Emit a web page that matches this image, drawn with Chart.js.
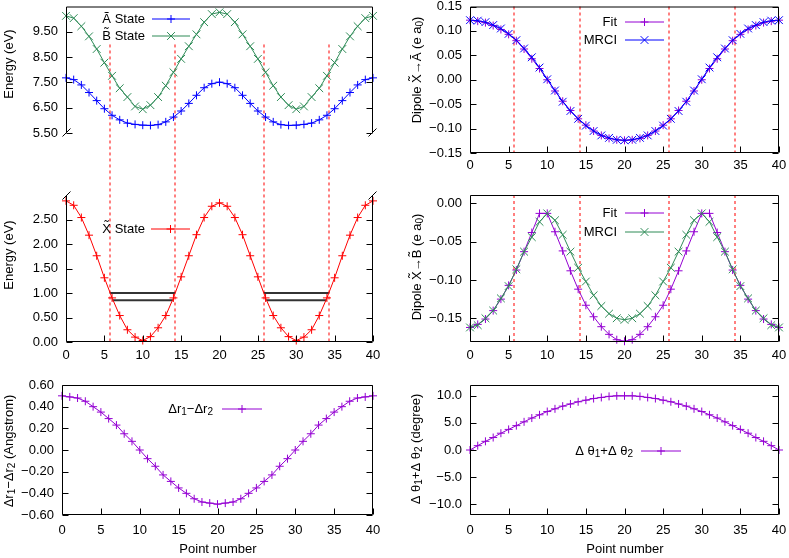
<!DOCTYPE html>
<html lang="en">
<head>
<meta charset="UTF-8" />
<title>Energies, dipoles and coordinates along the path</title>
<script src="https://cdn.jsdelivr.net/npm/chart.js"></script>
<style>
  body { margin: 0; background: #fff; overflow: hidden; }
  canvas { position: absolute; left: 0; top: 0; }
</style>
</head>
<body>
<canvas id="energyLow" width="789" height="558"></canvas>
<canvas id="energyHigh" width="789" height="558"></canvas>
<canvas id="dipoleA" width="789" height="558"></canvas>
<canvas id="dipoleB" width="789" height="558"></canvas>
<canvas id="deltaR" width="789" height="558"></canvas>
<canvas id="deltaTheta" width="789" height="558"></canvas>
<script>
// ---- data ----
const pointNumber = [0,1,2,3,4,5,6,7,8,9,10,11,12,13,14,15,16,17,18,19,20,21,22,23,24,25,26,27,28,29,30,31,32,33,34,35,36,37,38,39,40];

const stateA = [7.68,7.61,7.40,7.10,6.78,6.46,6.20,6.02,5.89,5.84,5.81,5.80,5.83,5.94,6.13,6.37,6.67,6.99,7.29,7.45,7.51,
                7.45,7.29,6.99,6.67,6.37,6.13,5.94,5.83,5.80,5.81,5.84,5.89,6.02,6.20,6.46,6.78,7.10,7.40,7.61,7.68];
const stateB = [10.13,10.04,9.72,9.32,8.82,8.28,7.76,7.27,6.92,6.55,6.44,6.60,6.92,7.37,7.90,8.43,8.93,9.40,9.88,10.20,10.27,
                10.20,9.88,9.40,8.93,8.43,7.90,7.37,6.92,6.60,6.44,6.55,6.92,7.27,7.76,8.28,8.82,9.32,9.72,10.04,10.13];
const stateX = [2.88,2.79,2.54,2.18,1.76,1.31,0.90,0.54,0.25,0.10,0.03,0.11,0.29,0.54,0.90,1.33,1.76,2.19,2.54,2.77,2.84,
                2.77,2.54,2.19,1.76,1.33,0.90,0.54,0.29,0.11,0.03,0.10,0.25,0.54,0.90,1.31,1.76,2.18,2.54,2.79,2.88];

const dipAFit  = [0.122,0.120,0.117,0.111,0.103,0.093,0.080,0.063,0.043,0.023,0.000,-0.023,-0.044,-0.063,-0.080,-0.093,-0.105,-0.114,-0.120,-0.123,-0.124,
                  -0.123,-0.120,-0.114,-0.105,-0.093,-0.080,-0.063,-0.044,-0.023,0.000,0.023,0.043,0.063,0.080,0.093,0.103,0.111,0.117,0.120,0.122];
const dipAMrci = [0.122,0.121,0.118,0.112,0.105,0.094,0.081,0.064,0.046,0.025,0.001,-0.022,-0.045,-0.064,-0.080,-0.094,-0.105,-0.114,-0.119,-0.123,-0.124,
                  -0.123,-0.119,-0.114,-0.105,-0.094,-0.080,-0.064,-0.045,-0.022,0.001,0.025,0.046,0.064,0.081,0.094,0.105,0.112,0.118,0.121,0.122];
const dipBFit  = [-0.162,-0.158,-0.151,-0.140,-0.125,-0.107,-0.087,-0.063,-0.038,-0.013,-0.013,-0.037,-0.062,-0.088,-0.112,-0.133,-0.148,-0.161,-0.171,-0.178,-0.180,
                  -0.178,-0.171,-0.161,-0.148,-0.133,-0.112,-0.088,-0.062,-0.037,-0.013,-0.013,-0.038,-0.063,-0.087,-0.107,-0.125,-0.140,-0.151,-0.158,-0.162];
const dipBMrci = [-0.162,-0.159,-0.150,-0.140,-0.124,-0.108,-0.086,-0.063,-0.044,-0.024,-0.013,-0.022,-0.041,-0.063,-0.084,-0.102,-0.120,-0.134,-0.144,-0.150,-0.152,
                  -0.150,-0.144,-0.134,-0.120,-0.102,-0.084,-0.063,-0.041,-0.022,-0.013,-0.024,-0.044,-0.063,-0.086,-0.108,-0.124,-0.140,-0.150,-0.159,-0.162];

const deltaR = [0.50,0.49,0.48,0.45,0.40,0.35,0.29,0.23,0.15,0.08,0.00,-0.08,-0.15,-0.23,-0.29,-0.35,-0.40,-0.45,-0.48,-0.49,-0.50,
                -0.49,-0.48,-0.45,-0.40,-0.35,-0.29,-0.23,-0.15,-0.08,0.00,0.08,0.15,0.23,0.29,0.35,0.40,0.45,0.48,0.49,0.50];
const deltaTheta = [0.0,0.8,1.6,2.3,3.1,3.8,4.5,5.2,5.9,6.5,7.1,7.6,8.1,8.5,8.9,9.2,9.5,9.7,9.9,10.0,10.0,
                    10.0,9.9,9.7,9.5,9.2,8.9,8.5,8.1,7.6,7.1,6.5,5.9,5.2,4.5,3.8,3.1,2.3,1.6,0.8,0.0];

// red dashed markers and the two black levels in the X state well
const crossings = [5.7, 14.2, 25.8, 34.3];
const dashTop = 9.0;
const levelUpper = 1.00;
const levelLower = 0.85;
const upperSpans = [[5.7, 14.2], [25.8, 34.3]];
const lowerSpans = [[6.05, 13.9], [26.1, 33.95]];

// ticks
const xTicks = [0,5,10,15,20,25,30,35,40];
const energyHighTicks = [5.5,6.5,7.5,8.5,9.5];
const energyLowTicks = [0,0.5,1,1.5,2,2.5];
const dipATicks = [-0.15,-0.1,-0.05,0,0.05,0.1,0.15];
const dipBTicks = [-0.15,-0.1,-0.05,0];
const drTicks = [-0.6,-0.4,-0.2,0,0.2,0.4,0.6];
const dthTicks = [-10,-5,0,5,10];

// ---- helpers ----
const FONT = '"Liberation Sans", Arial, sans-serif';
const FS = 13;
const AXW = 60, AXH = 30, TIC = 6;
const PURPLE = '#9400d3', BLUE = '#0000ff', GREEN = '#2e8b57', RED = '#ff0000';

const series = vals => vals.map((v, i) => ({ x: pointNumber[i], y: v }));
const fmt = (v, d) => v.toFixed(d).replace('-', '\u2212');

function lineSet(label, vals, color, style, order) {
  return {
    label, data: series(vals), borderColor: color, backgroundColor: color, borderWidth: 1,
    pointStyle: style, pointRadius: style === 'cross' ? 4 : 5.5, pointBorderWidth: 1,
    pointBorderColor: color, tension: 0, clip: false, order: order || 0
  };
}
function levelSet(y, span) {
  return { data: [{ x: span[0], y }, { x: span[1], y }], borderColor: '#333', borderWidth: 2, pointRadius: 0, clip: false };
}

function marker(ctx, style, x, y, r) {
  ctx.beginPath();
  if (style === 'cross') {
    ctx.moveTo(x - r, y); ctx.lineTo(x + r, y); ctx.moveTo(x, y - r); ctx.lineTo(x, y + r);
  } else {
    const d = r * Math.SQRT1_2;
    ctx.moveTo(x - d, y - d); ctx.lineTo(x + d, y + d); ctx.moveTo(x - d, y + d); ctx.lineTo(x + d, y - d);
  }
  ctx.stroke();
}

// text with subscripts: plain strings, or [str] for subscript
function richText(ctx, parts, x, y, align, rotate) {
  const big = `${FS}px ${FONT}`, small = `10px ${FONT}`;
  let w = 0;
  parts.forEach(p => { ctx.font = Array.isArray(p) ? small : big; w += ctx.measureText(Array.isArray(p) ? p[0] : p).width; });
  ctx.save();
  ctx.translate(x, y);
  if (rotate) ctx.rotate(-Math.PI / 2);
  ctx.fillStyle = '#000'; ctx.textBaseline = 'middle'; ctx.textAlign = 'left';
  let cx = align === 'right' ? -w : -w / 2;
  parts.forEach(p => {
    const sub = Array.isArray(p), t = sub ? p[0] : p;
    ctx.font = sub ? small : big;
    ctx.fillText(t, cx, sub ? 3.5 : 0);
    cx += ctx.measureText(t).width;
  });
  ctx.restore();
}

function framePlugin(p) {
  return {
    id: 'gnuplotFrame',
    beforeDatasetsDraw(chart) {
      if (!p.dashFrom) return;
      const { ctx, chartArea: a, scales } = chart;
      const y0 = p.dashFrom(chart);
      ctx.save();
      ctx.strokeStyle = RED; ctx.lineWidth = 1; ctx.setLineDash([3, 3]);
      crossings.forEach(v => {
        const x = Math.round(scales.x.getPixelForValue(v));
        ctx.beginPath(); ctx.moveTo(x, y0); ctx.lineTo(x, a.bottom); ctx.stroke();
      });
      ctx.restore();
    },
    afterDraw(chart) {
      const { ctx, chartArea: a, scales } = chart;
      ctx.save();
      ctx.strokeStyle = '#000'; ctx.lineWidth = 1;
      // border
      const L = a.left + 0.5, R = a.right - 0.5, T = a.top + 0.5, B = a.bottom - 0.5;
      ctx.beginPath();
      if (p.sides.includes('top')) { ctx.moveTo(L, T); ctx.lineTo(R, T); }
      if (p.sides.includes('bottom')) { ctx.moveTo(L, B); ctx.lineTo(R, B); }
      ctx.moveTo(L, T); ctx.lineTo(L, B);
      ctx.moveTo(R, T); ctx.lineTo(R, B);
      // inward ticks
      scales.y.ticks.forEach(tk => {
        const y = Math.round(scales.y.getPixelForValue(tk.value)) + 0.5;
        ctx.moveTo(L, y); ctx.lineTo(L + TIC, y);
        ctx.moveTo(R, y); ctx.lineTo(R - TIC, y);
      });
      if (p.xLabels) scales.x.ticks.forEach(tk => {
        const x = Math.round(scales.x.getPixelForValue(tk.value)) + 0.5;
        ctx.moveTo(x, B); ctx.lineTo(x, B - TIC);
      });
      // broken axis marks
      (p.breaks || []).forEach(side => {
        const y = side === 'top' ? T : B;
        [L, R].forEach(x => { ctx.moveTo(x - 4, y + 4); ctx.lineTo(x + 4, y - 4); });
      });
      ctx.stroke();

      // key
      (p.key || []).forEach(k => {
        const ds = chart.data.datasets[k.ds];
        richText(ctx, k.parts, p.keyText, k.y, 'right', false);
        ctx.strokeStyle = ds.borderColor; ctx.lineWidth = 1;
        ctx.beginPath(); ctx.moveTo(p.keyLine[0], k.y); ctx.lineTo(p.keyLine[1], k.y); ctx.stroke();
        marker(ctx, ds.pointStyle, (p.keyLine[0] + p.keyLine[1]) / 2, k.y, ds.pointRadius);
      });
      // axis titles
      richText(ctx, p.yTitle.parts, p.yTitle.x, p.yTitle.y, 'center', true);
      if (p.xTitle) richText(ctx, ['Point number'], p.xTitle.x, p.xTitle.y, 'center', false);
      ctx.restore();
    }
  };
}

function makePanel(id, p) {
  const b = p.box;
  const tickFont = { family: FONT, size: FS };
  return new Chart(document.getElementById(id), {
    type: 'line',
    data: { datasets: p.datasets },
    options: {
      responsive: false, animation: false, events: [],
      layout: { padding: { left: b.left - AXW, top: b.top, right: 789 - b.right, bottom: 558 - b.bottom - (p.xLabels ? AXH : 0) } },
      plugins: { legend: { display: false }, tooltip: { enabled: false } },
      scales: {
        x: {
          type: 'linear', min: 0, max: 40, bounds: 'data', display: p.xLabels,
          afterFit: s => { s.height = AXH; s.paddingLeft = 0; s.paddingRight = 0; },
          afterBuildTicks: s => { s.ticks = xTicks.map(v => ({ value: v })); },
          grid: { display: false, drawTicks: false }, border: { display: false },
          ticks: { color: '#000', font: tickFont, padding: p.xPad, maxRotation: 0, autoSkip: false, callback: v => String(v) }
        },
        y: {
          type: 'linear', min: p.yMin, max: p.yMax, bounds: 'data',
          afterFit: s => { s.width = AXW; s.paddingTop = 0; s.paddingBottom = 0; },
          afterBuildTicks: s => { s.ticks = p.yTicks.map(v => ({ value: v })); },
          grid: { display: false, drawTicks: false }, border: { display: false },
          ticks: { color: '#000', font: tickFont, padding: 8, autoSkip: false, callback: v => fmt(v, p.digits) }
        }
      }
    },
    plugins: [framePlugin(p)]
  });
}

// ---- panels ----
const energyHigh = makePanel('energyHigh', {
  box: { left: 66, right: 373, top: 5, bottom: 163 }, xLabels: false, sides: ['top'], breaks: ['bottom'],
  yMin: 5.5, yMax: 10.5, yTicks: energyHighTicks, digits: 2,
  datasets: [lineSet('A', stateA, BLUE, 'cross', 1), lineSet('B', stateB, GREEN, 'crossRot', 0)],
  keyText: 145, keyLine: [152, 190],
  key: [{ parts: ['\u00c3 State'], ds: 0, y: 19 }, { parts: ['B\u0303 State'], ds: 1, y: 36 }],
  yTitle: { parts: ['Energy (eV)'], x: 9, y: 64 }
});

makePanel('energyLow', {
  box: { left: 66, right: 373, top: 195, bottom: 342 }, xLabels: true, xPad: 6, sides: ['bottom'], breaks: ['top'],
  yMin: 0, yMax: 3.0, yTicks: energyLowTicks, digits: 2,
  dashFrom: () => energyHigh.scales.y.getPixelForValue(dashTop),
  datasets: [
    lineSet('X', stateX, RED, 'cross', 0),
    levelSet(levelUpper, upperSpans[0]), levelSet(levelUpper, upperSpans[1]),
    levelSet(levelLower, lowerSpans[0]), levelSet(levelLower, lowerSpans[1])
  ],
  keyText: 145, keyLine: [151, 190],
  key: [{ parts: ['X\u0303 State'], ds: 0, y: 229 }],
  yTitle: { parts: ['Energy (eV)'], x: 9, y: 255 }
});

makePanel('dipoleA', {
  box: { left: 470, right: 779, top: 5, bottom: 153 }, xLabels: true, xPad: 5, sides: ['top', 'bottom'],
  yMin: -0.15, yMax: 0.15, yTicks: dipATicks, digits: 2,
  dashFrom: chart => chart.chartArea.top,
  datasets: [lineSet('Fit', dipAFit, PURPLE, 'cross', 1), lineSet('MRCI', dipAMrci, BLUE, 'crossRot', 0)],
  keyText: 617, keyLine: [625, 664],
  key: [{ parts: ['Fit'], ds: 0, y: 22 }, { parts: ['MRCI'], ds: 1, y: 40 }],
  yTitle: { parts: ['Dipole X\u0303\u2192\u00c3 (e a', ['0'], ')'], x: 417, y: 70 }
});

makePanel('dipoleB', {
  box: { left: 470, right: 779, top: 195, bottom: 342 }, xLabels: true, xPad: 6, sides: ['top', 'bottom'],
  yMin: -0.181, yMax: 0.011, yTicks: dipBTicks, digits: 2,
  dashFrom: chart => chart.chartArea.top,
  datasets: [lineSet('Fit', dipBFit, PURPLE, 'cross', 1), lineSet('MRCI', dipBMrci, GREEN, 'crossRot', 0)],
  keyText: 617, keyLine: [625, 664],
  key: [{ parts: ['Fit'], ds: 0, y: 213 }, { parts: ['MRCI'], ds: 1, y: 232 }],
  yTitle: { parts: ['Dipole X\u0303\u2192B\u0303 (e a', ['0'], ')'], x: 417, y: 267 }
});

makePanel('deltaR', {
  box: { left: 62, right: 373, top: 385, bottom: 515 }, xLabels: true, xPad: 8, sides: ['top', 'bottom'],
  yMin: -0.6, yMax: 0.6, yTicks: drTicks, digits: 2,
  datasets: [lineSet('dr', deltaR, PURPLE, 'cross', 0)],
  keyText: 213, keyLine: [222, 262],
  key: [{ parts: ['\u0394r', ['1'], '\u2212\u0394r', ['2']], ds: 0, y: 409 }],
  yTitle: { parts: ['\u0394r', ['1'], '\u2212\u0394r', ['2'], ' (Angstrom)'], x: 9, y: 451 },
  xTitle: { x: 218, y: 549 }
});

makePanel('deltaTheta', {
  box: { left: 470, right: 779, top: 385, bottom: 515 }, xLabels: true, xPad: 8, sides: ['top', 'bottom'],
  yMin: -12, yMax: 12, yTicks: dthTicks, digits: 1,
  datasets: [lineSet('dth', deltaTheta, PURPLE, 'cross', 0)],
  keyText: 633, keyLine: [641, 681],
  key: [{ parts: ['\u0394 \u03b8', ['1'], '+\u0394 \u03b8', ['2']], ds: 0, y: 451 }],
  yTitle: { parts: ['\u0394 \u03b8', ['1'], '+\u0394 \u03b8', ['2'], ' (degree)'], x: 416, y: 449 },
  xTitle: { x: 625, y: 549 }
});
</script>
</body>
</html>
